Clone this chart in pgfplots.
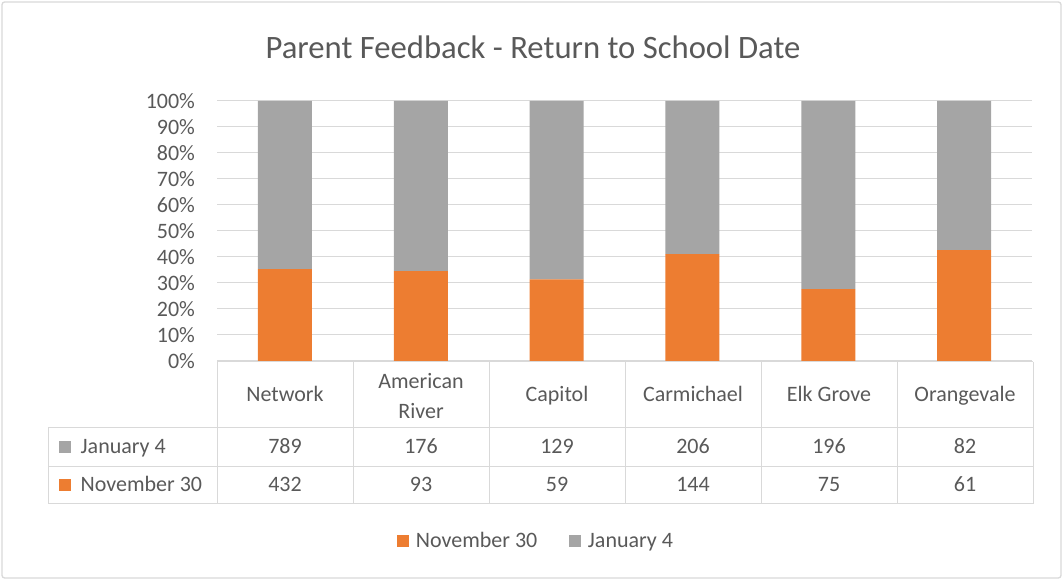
\documentclass[border=0pt]{standalone}
\usepackage{fontspec}
\setmainfont{Carlito}
\usepackage{pgfplots}
\usepackage{pgfplotstable}
\pgfplotsset{compat=1.18}
\definecolor{nov}{HTML}{ED7D31}
\definecolor{jan}{HTML}{A5A5A5}
\definecolor{gridc}{HTML}{D9D9D9}
\definecolor{txt}{HTML}{595959}

% counts per site: November 30 / January 4
\pgfplotstableread{
idx nov jan
0   432 789
1   93  176
2   59  129
3   144 206
4   75  196
5   61  82
}\counts

\begin{document}
\begin{tikzpicture}[font=\fontsize{16.5}{19}\selectfont,text=txt,
  cell/.style={text height=10.8pt,text depth=3.6pt}]
\begin{scope}[x=0.75pt,y=0.75pt]
\path[use as bounding box] (0,0) rectangle (1063,580);
\draw[gridc,line width=1pt,rounded corners=2pt] (2,2) rectangle (1061,578);
\node[font=\fontsize{24.5}{29}\selectfont] at (533,533) {Parent Feedback - Return to School Date};
\end{scope}

\begin{axis}[at={(162.75pt,164.25pt)},anchor=south west,scale only axis,width=611.25pt,height=195pt,
 ybar stacked,bar width=40.5pt,xmin=-0.5,xmax=5.5,ymin=0,ymax=100,
 ytick={0,10,...,100},xtick=\empty,axis line style={draw=none},major tick length=0pt,
 ymajorgrids,grid style={gridc,line width=0.75pt},
 yticklabel={\pgfmathprintnumber{\tick}\%},/pgf/number format/assume math mode=true,
 yticklabel style={font=\fontsize{16.5}{19}\selectfont,text=txt,xshift=-13pt},
 legend style={at={(rel axis cs:0.392,-0.693)},anchor=center,draw=none,legend columns=2,
   font=\fontsize{16.5}{19}\selectfont,text=txt,/tikz/every even column/.append style={column sep=22pt}},
 legend image code/.code={\fill[#1] (0pt,-4.5pt) rectangle (9pt,4.5pt);\path (12pt,0pt);}]
\addplot[fill=nov,draw=none] table[x=idx,y expr={100*\thisrow{nov}/(\thisrow{nov}+\thisrow{jan})}] {\counts};
\addplot[fill=jan,draw=none] table[x=idx,y expr={100*\thisrow{jan}/(\thisrow{nov}+\thisrow{jan})}] {\counts};
\legend{November 30,January 4}
\end{axis}

% data table
\begin{scope}[x=0.75pt,y=0.75pt]
\begin{scope}[gridc,line width=0.75pt]
\draw (217,218) -- (1033,218);
\draw (48,152) -- (1033,152);
\draw (48,113) -- (1033,113);
\draw (48,76) -- (1033,76);
\draw (48,76) -- (48,152);
\foreach \k in {0,...,6} \draw ({217+136*\k},76) -- ({217+136*\k},218);
\end{scope}
\foreach \n [count=\i from 0] in {Network,Capitol,Carmichael,Elk Grove,Orangevale}
  \node[cell] at ({285+136*(\i+(\i>0))},183) {\n};
\node[align=center,font=\fontsize{16.5}{22}\selectfont] at (421,184) {American\\River};
\foreach \i in {0,...,5}{
  \pgfplotstablegetelem{\i}{jan}\of\counts
  \node[cell] at ({285+136*\i},131) {\pgfplotsretval};
  \pgfplotstablegetelem{\i}{nov}\of\counts
  \node[cell] at ({285+136*\i},93) {\pgfplotsretval};
}
\fill[jan] (59,127) rectangle (71,139);
\node[cell,anchor=west] at (76,131) {January 4};
\fill[nov] (59,89) rectangle (71,101);
\node[cell,anchor=west] at (76,93) {November 30};
\end{scope}
\end{tikzpicture}
\end{document}
